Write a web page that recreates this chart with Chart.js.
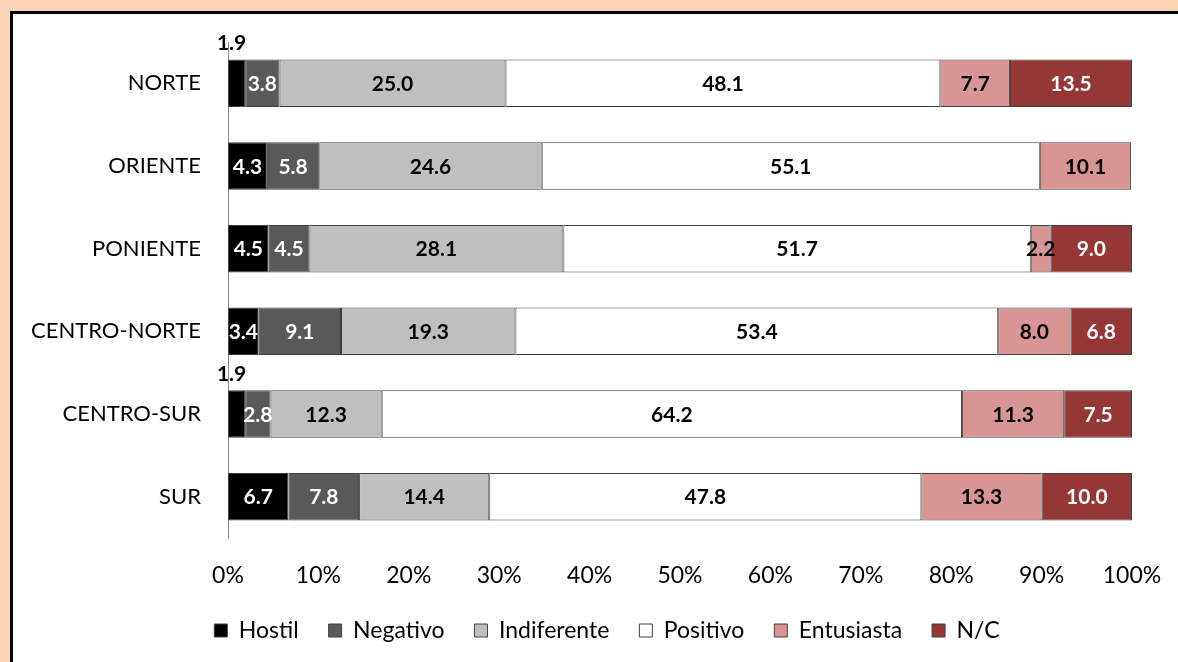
<!DOCTYPE html>
<html>
<head>
<meta charset="utf-8">
<script src="https://cdn.jsdelivr.net/npm/chart.js@4.4.1/dist/chart.umd.min.js"></script>
<style>
  html, body { margin: 0; padding: 0; width: 1178px; height: 662px; overflow: hidden; background: #FCD5B4; }
  #frame { position: absolute; left: 10px; top: 11px; width: 1200px; height: 700px; background: #ffffff; border-top: 3px solid #000; border-left: 3px solid #000; box-sizing: border-box; }
  #wrap { position: absolute; left: 0; top: 0; width: 1178px; height: 662px; }
</style>
</head>
<body>
<div id="frame"></div>
<div id="wrap"><canvas id="c" width="1178" height="662"></canvas></div>
<script>
const categories = ["NORTE", "ORIENTE", "PONIENTE", "CENTRO-NORTE", "CENTRO-SUR", "SUR"];
const seriesNames = ["Hostil", "Negativo", "Indiferente", "Positivo", "Entusiasta", "N/C"];
const hostil      = [1.9, 4.3, 4.5, 3.4, 1.9, 6.7];
const negativo    = [3.8, 5.8, 4.5, 9.1, 2.8, 7.8];
const indiferente = [25.0, 24.6, 28.1, 19.3, 12.3, 14.4];
const positivo    = [48.1, 55.1, 51.7, 53.4, 64.2, 47.8];
const entusiasta  = [7.7, 10.1, 2.2, 8.0, 11.3, 13.3];
const nc          = [13.5, null, 9.0, 6.8, 7.5, 10.0];
const xTicks = ["0%", "10%", "20%", "30%", "40%", "50%", "60%", "70%", "80%", "90%", "100%"];

const colors = ["#000000", "#595959", "#BFBFBF", "#FFFFFF", "#D99594", "#953735"];
const labelColors = ["#FFFFFF", "#FFFFFF", "#000000", "#000000", "#000000", "#FFFFFF"];
const allSeries = [hostil, negativo, indiferente, positivo, entusiasta, nc];

const FONT = "Lato, 'Open Sans', sans-serif";

const datasets = allSeries.map((vals, i) => ({
  label: seriesNames[i],
  data: vals,
  backgroundColor: colors[i],
  borderColor: "#404040",
  borderWidth: 1,
  borderSkipped: false,
  categoryPercentage: 1.0,
  barPercentage: 0.575
}));

const valueLabels = {
  id: "valueLabels",
  afterDatasetsDraw(chart) {
    const ctx = chart.ctx;
    ctx.save();
    ctx.font = "bold 21px " + FONT;
    ctx.textAlign = "center";
    ctx.textBaseline = "middle";
    chart.data.datasets.forEach((ds, di) => {
      const meta = chart.getDatasetMeta(di);
      meta.data.forEach((bar, idx) => {
        const v = ds.data[idx];
        if (!v) return;
        const txt = v.toFixed(1);
        const left = Math.min(bar.x, bar.base), right = Math.max(bar.x, bar.base);
        const cx = (left + right) / 2;
        if (v < 2) {
          ctx.fillStyle = "#000000";
          ctx.fillText(txt, cx - 5, bar.y - bar.height / 2 - 16);
        } else {
          ctx.fillStyle = labelColors[di];
          ctx.fillText(txt, cx, bar.y + 1);
        }
      });
    });
    ctx.restore();
  }
};

const legendShift = {
  id: "legendShift",
  afterLayout(chart) {
    if (chart.legend) {
      chart.legend.left += 41;
      chart.legend.right += 41;
    }
  }
};

new Chart(document.getElementById("c"), {
  type: "bar",
  data: { labels: categories, datasets },
  options: {
    indexAxis: "y",
    responsive: false,
    animation: false,
    layout: { padding: { left: 0, right: 46, top: 42, bottom: 10 } },
    scales: {
      x: {
        stacked: true,
        min: 0, max: 100,
        grid: { display: false, drawTicks: false },
        border: { display: false },
        ticks: {
          stepSize: 10,
          padding: 24,
          color: "#000",
          font: { family: FONT, size: 23 },
          callback: (v, i) => xTicks[i]
        },
        afterFit(s) { s.height = 51; s.paddingLeft = 0; s.paddingRight = 0; }
      },
      y: {
        stacked: true,
        grid: { display: false, drawTicks: false },
        border: { display: true, color: "#8C8C8C", width: 1 },
        ticks: {
          padding: 27,
          color: "#000",
          font: { family: FONT, size: 22 }
        },
        afterFit(s) { s.width = 228; }
      }
    },
    plugins: {
      legend: {
        position: "bottom",
        labels: {
          boxWidth: 13,
          boxHeight: 13,
          padding: 30,
          color: "#000",
          font: { family: FONT, size: 23 },
          generateLabels(chart) {
            return chart.data.datasets.map((ds, i) => ({
              text: ds.label,
              fillStyle: ds.backgroundColor,
              strokeStyle: "#404040",
              lineWidth: 1,
              fontColor: "#000",
              datasetIndex: i,
              hidden: false
            }));
          }
        }
      },
      tooltip: { enabled: false }
    }
  },
  plugins: [valueLabels, legendShift]
});
</script>
</body>
</html>
